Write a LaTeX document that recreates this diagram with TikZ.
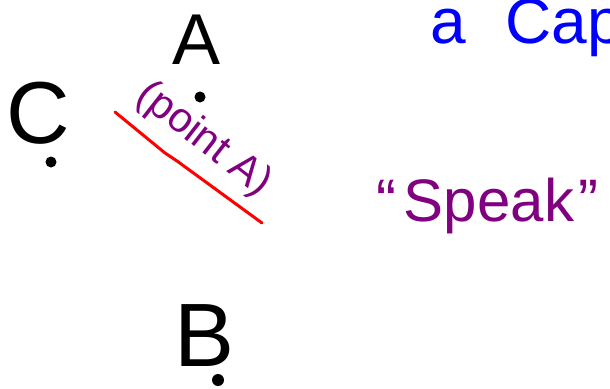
\documentclass[tikz,border=0pt]{standalone}
\usepackage{fontspec}
\setmainfont{Liberation Sans}
\definecolor{inkpurple}{RGB}{128,0,128}
\definecolor{inkblue}{RGB}{0,0,255}
\definecolor{inkred}{RGB}{255,0,0}
\begin{document}
\begin{tikzpicture}[x=1pt,y=-1pt,
  ink/.style={inner sep=0pt,outer sep=0pt},
  dotmark/.style={circle,fill=black,inner sep=0pt,minimum size=11pt}]
\useasboundingbox (0,0) rectangle (610,388);
\clip (0,0) rectangle (610,388);
% black letters and points
\node[ink,font=\fontsize{72}{72}\selectfont] (A) at (197,40) {A};
\node[dotmark] (pA) at (200,97) {};
\node[ink,font=\fontsize{88}{88}\selectfont] (C) at (38,113) {C};
\node[dotmark] (pC) at (51,162) {};
\node[ink,font=\fontsize{90}{90}\selectfont] (B) at (205,336) {B};
\node[dotmark,minimum size=12pt] (pB) at (218,380) {};
% purple label
\node[ink,text=inkpurple,rotate=-38,font=\fontsize{42}{42}\selectfont] (lab) at (204,140) {(point A)};
% red underline
\coordinate (r1) at (115,112);
\coordinate (r2) at (165,153);
\coordinate (r3) at (177,161);
\coordinate (r4) at (262,223);
\draw[inkred,line width=3pt,line cap=round,line join=round] (r1) -- (r2) -- (r3) -- (r4);
% blue text clipped at right
\node[ink,anchor=base west,text=inkblue,font=\fontsize{64}{64}\selectfont] (cap) at (430,43) {a\hspace{40pt}Cap};
% speak
\node[ink,anchor=base west,text=inkpurple,font=\fontsize{60}{60}\selectfont] (speak) at (376,221) {``\hspace{8pt}Speak\hspace{4pt}''};
\end{tikzpicture}
\end{document}
